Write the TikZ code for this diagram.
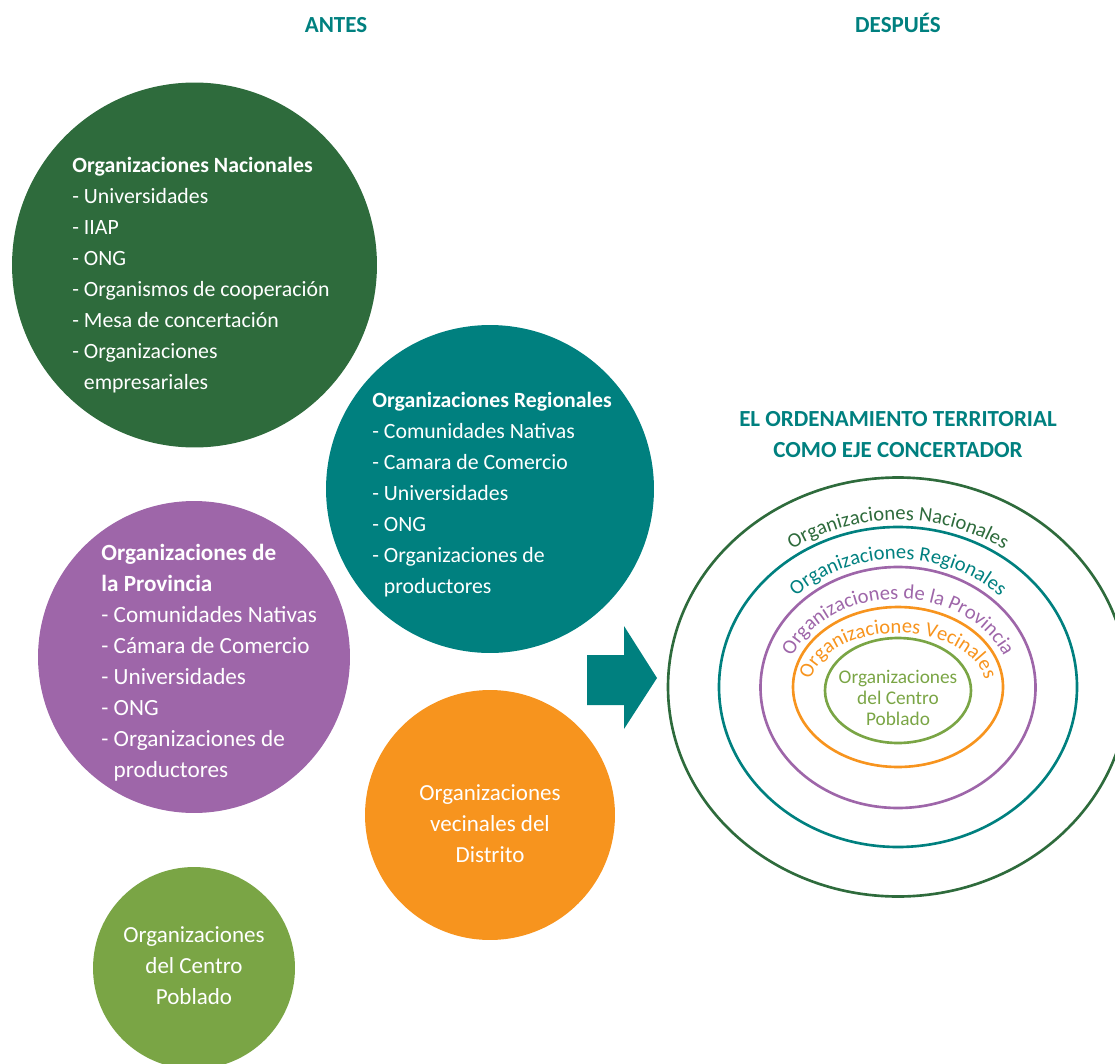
\documentclass[tikz,border=0pt]{standalone}
\usepackage{fontspec}
\setmainfont{Carlito}
\usetikzlibrary{decorations.text}
\definecolor{verdeosc}{HTML}{2E6B3C}
\definecolor{turquesa}{HTML}{00807F}
\definecolor{morado}{HTML}{9E66A9}
\definecolor{naranja}{HTML}{F7941E}
\definecolor{verdecl}{HTML}{7AA545}
\newcommand{\sangria}{\hphantom{-}\ }
\newcommand{\anillofont}{\fontsize{11.7}{14}\selectfont}

\begin{document}
\begin{tikzpicture}[x=0.02cm,y=-0.02cm]
\tikzset{burbuja/.style = {shape=circle,inner sep=0pt,draw=none}}
\tikzset{lista/.style = {text=white,align=left,inner sep=0pt,anchor=base west,font=\fontsize{#1}{17.6}\selectfont},lista/.default=12.4}
\tikzset{centrado/.style = {text=white,align=center,inner sep=0pt,anchor=base,font=\fontsize{13.1}{17.6}\selectfont}}
\tikzset{titulo/.style = {text=turquesa,align=center,inner sep=0pt,anchor=base,font=\bfseries\fontsize{13.1}{17.6}\selectfont}}
\tikzset{anillo/.style = {line width=1.5pt}}
\tikzset{rotulo/.style 2 args = {decorate,decoration={text along path,text align=center,text color=#1,text={|\anillofont|#2}}}}
\useasboundingbox (0,0) rectangle (1115,1064);
\clip (0,0) rectangle (1115,1064);
% titulos (base = ultima linea)
\node[titulo] (antes) at (336,33) {ANTES};
\node[titulo] (despues) at (898,33) {DESPUÉS};
\node[titulo] (eje) at (898,457) {EL ORDENAMIENTO TERRITORIAL\\COMO EJE CONCERTADOR};
% antes
\node[burbuja,fill=verdeosc,minimum size=7.3cm] (nacionales) at (194.5,265) {};
\node[burbuja,fill=turquesa,minimum size=6.56cm] (regionales) at (490,489) {};
\node[burbuja,fill=morado,minimum size=6.24cm] (provincia) at (194,657) {};
\node[burbuja,fill=naranja,minimum size=5cm] (vecinales) at (490,815) {};
\node[burbuja,fill=verdecl,minimum size=4.04cm] (centro) at (194,968) {};
\node[lista] (nacionales-txt) at (72,389) {\textbf{Organizaciones Nacionales}\\- Universidades\\- IIAP\\- ONG\\- Organismos de cooperación\\- Mesa de concertación\\- Organizaciones\\\sangria empresariales};
\node[lista] (regionales-txt) at (372,593) {\textbf{Organizaciones Regionales}\\- Comunidades Nativas\\- Camara de Comercio\\- Universidades\\- ONG\\- Organizaciones de\\\sangria productores};
\node[lista=13.2] (provincia-txt) at (101,777) {\textbf{Organizaciones de}\\\textbf{la Provincia}\\- Comunidades Nativas\\- Cámara de Comercio\\- Universidades\\- ONG\\- Organizaciones de\\\sangria productores};
\node[centrado] (vecinales-txt) at (490,862) {Organizaciones\\vecinales del\\Distrito};
\node[centrado] (centro-txt) at (194,1004) {Organizaciones\\del Centro\\Poblado};
% flecha
\fill[turquesa] (587,655) -- (624,655) -- (624,626) -- (657,678) -- (624,729) -- (624,705) -- (587,705) -- cycle;
% despues
\draw[anillo,verdeosc] (898,687) ellipse [x radius=230, y radius=209.5];
\draw[anillo,turquesa] (898,687) ellipse [x radius=179, y radius=160];
\draw[anillo,morado] (898,687.5) ellipse [x radius=137.5, y radius=120.5];
\draw[anillo,naranja] (898,687) ellipse [x radius=105, y radius=80];
\draw[anillo,verdecl] (898,690.5) ellipse [x radius=73, y radius=52.5];
\path[rotulo={verdeosc}{Organizaciones Nacionales}] (898,688) ++(180:186 and 168) arc [start angle=180, end angle=360, x radius=186, y radius=168];
\path[rotulo={turquesa}{Organizaciones Regionales}] (898,688) ++(180:145 and 129) arc [start angle=180, end angle=360, x radius=145, y radius=129];
\path[rotulo={morado}{Organizaciones de la Provincia}] (898,688) ++(180:113 and 89) arc [start angle=180, end angle=360, x radius=113, y radius=89];
\path[rotulo={naranja}{Organizaciones Vecinales}] (898,688) ++(180:88 and 55) arc [start angle=180, end angle=360, x radius=88, y radius=55];
\node[centrado,text=verdecl,font=\fontsize{11}{11.9}\selectfont] (anillo-txt) at (898,725) {Organizaciones\\del Centro\\Poblado};
\end{tikzpicture}
\end{document}
